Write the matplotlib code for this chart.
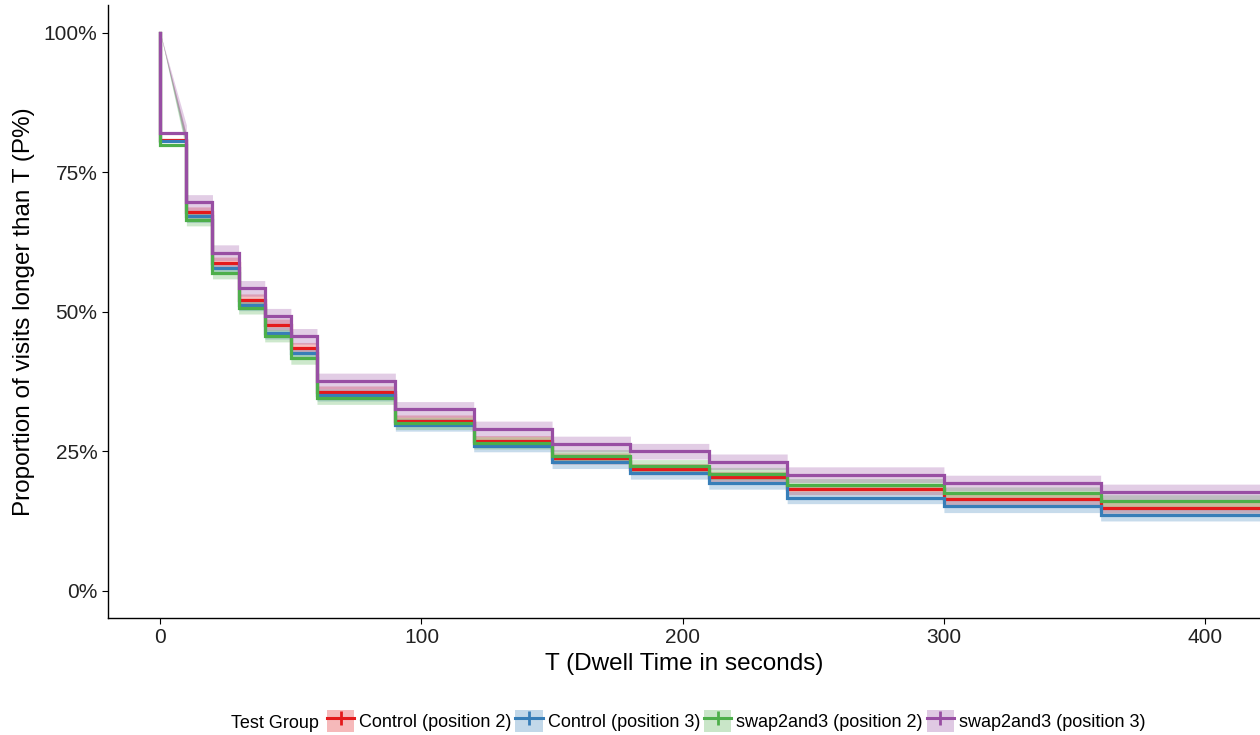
import matplotlib
matplotlib.use("Agg")
import matplotlib.pyplot as plt
from matplotlib.patches import Patch
from matplotlib.lines import Line2D
import numpy as np

plt.rcParams["font.family"] = ["Liberation Sans", "DejaVu Sans"]

times = [0, 10, 20, 30, 40, 50, 60, 90, 120, 150, 180, 210, 240, 300, 360]
t_end = 430
groups = ["Control (position 2)", "Control (position 3)",
          "swap2and3 (position 2)", "swap2and3 (position 3)"]
colors = ["#E41A1C", "#377EB8", "#4DAF4A", "#984EA3"]
ctrl_pos2 = [80.8, 67.8, 58.8, 52.2, 47.7, 43.5, 35.7, 30.5, 26.8, 23.7, 21.8, 20.4, 18.2, 16.4, 14.9]
ctrl_pos3 = [80.6, 67.1, 57.9, 51.3, 46.2, 42.6, 35.1, 29.7, 26.0, 23.0, 21.1, 19.3, 16.7, 15.1, 13.6]
swap_pos2 = [79.9, 66.5, 57.0, 50.7, 45.7, 41.7, 34.5, 30.0, 26.5, 24.2, 22.4, 21.0, 19.0, 17.5, 16.1]
swap_pos3 = [82.1, 69.6, 60.6, 54.2, 49.2, 45.6, 37.6, 32.5, 29.0, 26.3, 25.0, 23.1, 20.8, 19.3, 17.7]
ci_half = [1.0, 1.1, 1.1, 1.4]
series = [ctrl_pos2, ctrl_pos3, swap_pos2, swap_pos3]

fig = plt.figure(figsize=(12.6, 7.35), dpi=100)
ax = fig.add_axes([108/1260, (735-618)/735, 1 - 108/1260, (618-5)/735])

# ribbons
for vals, c, h in zip(series, colors, ci_half):
    xs = [times[0]]
    ys = [100.0]
    for i in range(1, len(times)):
        xs += [times[i], times[i]]
        ys += [vals[i-1], vals[i]]
    xs.append(t_end)
    ys.append(vals[-1])
    xs = np.array(xs, float)
    ys = np.array(ys, float)
    lo = ys - h
    hi = ys + h
    lo[0] = hi[0] = 100.0
    ax.fill_between(xs, lo, hi, color=c, alpha=0.28, lw=0)

# step lines
for vals, c in zip(series, colors):
    x = [0] + times + [t_end]
    y = [100] + vals + [vals[-1]]
    ax.step(x, y, where="post", color=c, lw=2.3, solid_joinstyle="miter")

ax.set_xlim(-20, 421)
ax.set_ylim(-4.9, 105)
ax.set_xticks([0, 100, 200, 300, 400])
ax.set_yticks([0, 25, 50, 75, 100])
ax.set_yticklabels(["0%", "25%", "50%", "75%", "100%"])
ax.tick_params(labelsize=15, colors="black", length=4, width=0.8, labelcolor="#222222")
for s in ["top", "right"]:
    ax.spines[s].set_visible(False)
ax.spines["left"].set_linewidth(1.0)
ax.spines["bottom"].set_linewidth(1.0)
ax.set_xlabel("T (Dwell Time in seconds)", fontsize=17.5, labelpad=4)
ax.set_ylabel("Proportion of visits longer than T (P%)", fontsize=17.5, labelpad=6)

handles = []
for c in colors:
    p = Patch(facecolor=c, alpha=0.3, edgecolor="none")
    l = Line2D([], [], color=c, lw=2.2, marker="|", markersize=10, markeredgewidth=2)
    handles.append((p, l))
fig.text(231/1260, 1 - 721/735, "Test Group", fontsize=13, va="center_baseline", ha="left")
fig.legend(handles, groups, loc="center left", bbox_to_anchor=(327/1260, 1 - 721/735),
           ncol=4, frameon=False, fontsize=13, handlelength=1.5, handleheight=1.5,
           handletextpad=0.28, columnspacing=0.22, borderpad=0, borderaxespad=0)

fig.savefig("out.png", dpi=100)
